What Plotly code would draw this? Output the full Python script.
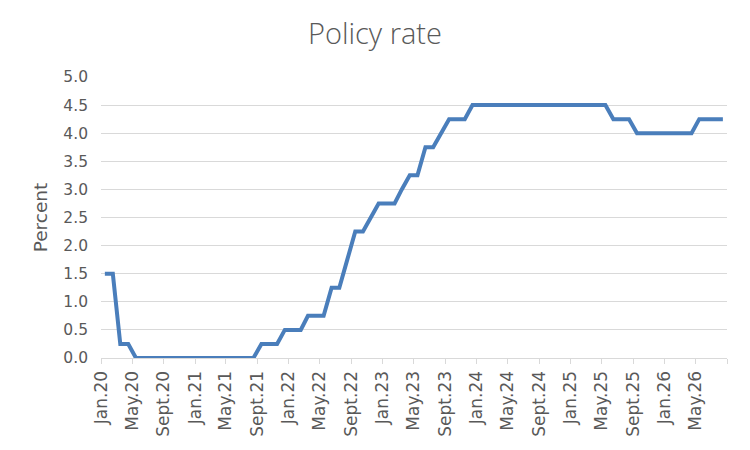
import pandas as pd
import plotly.graph_objects as go

# monthly policy rate, Jan 2020 - Aug 2026 (percent)
rate = [
    1.5, 1.5, 0.25, 0.25,
    0, 0, 0, 0, 0, 0, 0, 0, 0, 0, 0, 0, 0, 0, 0, 0,
    0.25, 0.25, 0.25, 0.5, 0.5, 0.5, 0.75, 0.75, 0.75,
    1.25, 1.25, 1.75, 2.25, 2.25, 2.5, 2.75, 2.75, 2.75,
    3.0, 3.25, 3.25, 3.75, 3.75, 4.0, 4.25, 4.25, 4.25,
    4.5, 4.5, 4.5, 4.5, 4.5, 4.5, 4.5, 4.5, 4.5,
    4.5, 4.5, 4.5, 4.5, 4.5, 4.5, 4.5, 4.5, 4.5,
    4.25, 4.25, 4.25, 4.0, 4.0, 4.0, 4.0, 4.0, 4.0, 4.0, 4.0,
    4.25, 4.25, 4.25, 4.25,
]
first_month = "2020-01-01"
tick_labels = [
    "Jan.20", "May.20", "Sept.20", "Jan.21", "May.21", "Sept.21",
    "Jan.22", "May.22", "Sept.22", "Jan.23", "May.23", "Sept.23",
    "Jan.24", "May.24", "Sept.24", "Jan.25", "May.25", "Sept.25",
    "Jan.26", "May.26", "",
]

# points sit in the middle of each month slot, ticks on month starts
months = pd.date_range(first_month, periods=len(rate), freq="MS")
mid = months + pd.Timedelta(days=15)
ticks = pd.date_range(first_month, periods=len(tick_labels), freq="4MS")

grey = "#595959"
fig = go.Figure()
fig.add_trace(
    go.Scatter(
        x=mid,
        y=rate,
        mode="lines",
        line={"color": "#4a7ebb", "width": 4},
        hoverinfo="x+y",
    )
)

fig.update_layout(
    width=750,
    height=450,
    margin={"l": 101, "r": 23, "t": 77, "b": 92},
    paper_bgcolor="white",
    plot_bgcolor="white",
    showlegend=False,
    font={"family": "DejaVu Sans", "color": grey, "size": 15},
    title={
        "text": "Policy rate",
        "x": 0.5,
        "xref": "container",
        "y": 0.924,
        "yanchor": "middle",
        "font": {"family": "Open Sans", "size": 29, "color": grey, "weight": 300},
    },
)
fig.update_xaxes(
    range=[months[0], months[-1] + pd.offsets.MonthBegin(1)],
    tickmode="array",
    tickvals=ticks,
    ticktext=tick_labels,
    tickangle=-90,
    tickfont={"size": 17},
    ticks="outside",
    ticklen=5,
    tickcolor="#d9d9d9",
    showline=True,
    linecolor="#d9d9d9",
    linewidth=1.3,
    showgrid=False,
    zeroline=False,
    automargin=False,
)
fig.update_yaxes(
    range=[0, 5],
    dtick=0.5,
    tickformat=".1f",
    tickfont={"size": 15.5},
    showgrid=True,
    gridcolor="#d9d9d9",
    gridwidth=1.3,
    zeroline=False,
    ticks="",
    ticklabelstandoff=12,
    automargin=False,
    title={"text": "Percent", "font": {"size": 18.5}, "standoff": 10},
)

# drop the default page margin so the figure sits at the window corner
fig.write_html(
    "out.html",
    config={"displayModeBar": False},
    post_script="document.body.style.margin='0';",
)
